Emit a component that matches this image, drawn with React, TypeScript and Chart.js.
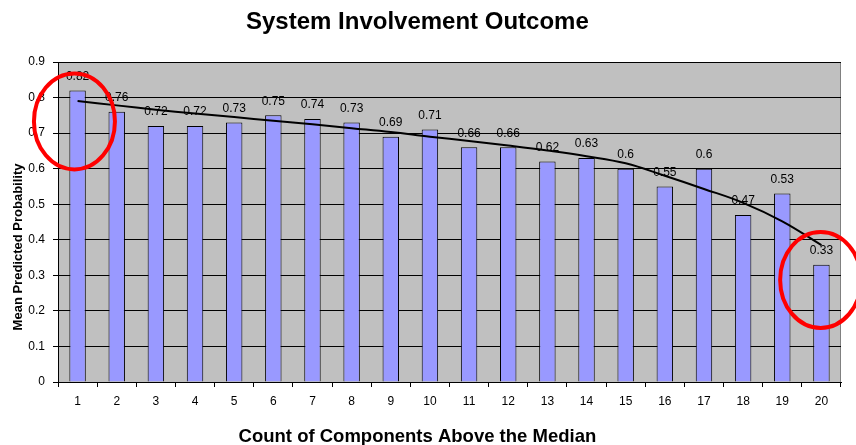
import React, { useEffect, useRef } from "react";
import { Chart, registerables } from "chart.js";

Chart.register(...registerables);

const categories = ["1","2","3","4","5","6","7","8","9","10","11","12","13","14","15","16","17","18","19","20"];
const meanProbability = [0.82,0.76,0.72,0.72,0.73,0.75,0.74,0.73,0.69,0.71,0.66,0.66,0.62,0.63,0.6,0.55,0.6,0.47,0.53,0.33];
const trendValues = [0.79,0.778,0.766,0.755,0.745,0.735,0.725,0.714,0.703,0.69,0.678,0.665,0.651,0.635,0.615,0.58,0.543,0.504,0.452,0.385];
// highlight ellipses in data coordinates (category index, value)
const highlightCenters = [
  { index: -0.08, value: 0.733 },
  { index: 18.98, value: 0.287 },
];
const chartTitle = "System Involvement Outcome";
const xTitle = "Count of Components Above the Median";
const yTitle = "Mean Predicted Probability";

const FONT = "Arial, 'Liberation Sans', sans-serif";

const plotBg = {
  id: "plotBg",
  beforeDraw(chart: any) {
    const { ctx, chartArea } = chart;
    ctx.save();
    ctx.fillStyle = "#c0c0c0";
    ctx.fillRect(chartArea.left, chartArea.top, chartArea.right - chartArea.left, chartArea.bottom - chartArea.top);
    ctx.strokeStyle = "#808080";
    ctx.lineWidth = 1;
    ctx.beginPath();
    ctx.moveTo(Math.round(chartArea.right) - 0.5, chartArea.top);
    ctx.lineTo(Math.round(chartArea.right) - 0.5, chartArea.bottom);
    ctx.stroke();
    ctx.restore();
  },
};

const barLabels = {
  id: "barLabels",
  afterDatasetDraw(chart: any, args: any) {
    if (args.index !== 0) return;
    const { ctx } = chart;
    const meta = chart.getDatasetMeta(0);
    ctx.save();
    ctx.font = `12px ${FONT}`;
    ctx.fillStyle = "#000";
    ctx.textAlign = "center";
    ctx.textBaseline = "middle";
    meta.data.forEach((el: any, i: number) => {
      ctx.fillText(String(meanProbability[i]), el.x, el.y - 14);
    });
    ctx.restore();
  },
};

const titles = {
  id: "titles",
  afterDraw(chart: any) {
    const { ctx, chartArea } = chart;
    const w = chartArea.right - chartArea.left;
    ctx.save();
    ctx.fillStyle = "#000";
    ctx.textAlign = "center";
    ctx.textBaseline = "middle";
    ctx.font = `bold 24px ${FONT}`;
    ctx.fillText(chartTitle, chartArea.left + w * 0.459, 22.5);
    ctx.font = `bold 18.5px ${FONT}`;
    ctx.fillText(xTitle, chartArea.left + w * 0.459, chart.height - 8.5);
    ctx.translate(18, chartArea.top + (chartArea.bottom - chartArea.top) * 0.578);
    ctx.rotate(-Math.PI / 2);
    ctx.font = `bold 13px ${FONT}`;
    ctx.fillText(yTitle, 0, 0);
    ctx.restore();
  },
};

const highlights = {
  id: "highlights",
  afterDraw(chart: any) {
    const { ctx } = chart;
    const xs = chart.scales.x;
    const ys = chart.scales.y;
    const step = xs.getPixelForValue(1) - xs.getPixelForValue(0);
    ctx.save();
    ctx.strokeStyle = "#ff0000";
    ctx.lineWidth = 4;
    highlightCenters.forEach((c) => {
      const cx = xs.getPixelForValue(0) + c.index * step;
      const cy = ys.getPixelForValue(c.value);
      ctx.beginPath();
      ctx.ellipse(cx, cy, 40.5, 48, 0, 0, Math.PI * 2);
      ctx.stroke();
    });
    ctx.restore();
  },
};

export default function App() {
  const ref = useRef<HTMLCanvasElement>(null);
  useEffect(() => {
    const chart = new Chart(ref.current!, {
      type: "bar",
      data: {
        labels: categories,
        datasets: [
          {
            type: "bar",
            data: meanProbability,
            backgroundColor: "#9999ff",
            borderColor: "#000000",
            borderWidth: 1,
            barPercentage: 0.42,
            categoryPercentage: 1,
            order: 2,
          } as any,
          {
            type: "line",
            data: trendValues,
            borderColor: "#000000",
            borderWidth: 2,
            pointRadius: 0,
            tension: 0.4,
            fill: false,
            order: 1,
          } as any,
        ],
      },
      options: {
        responsive: true,
        maintainAspectRatio: false,
        animation: false,
        layout: { padding: { left: 0, right: 15, top: 62, bottom: 0 } },
        plugins: {
          legend: { display: false },
          tooltip: { enabled: false },
          title: { display: false },
        },
        scales: {
          x: {
            offset: true,
            grid: { offset: true, drawOnChartArea: false, drawTicks: true, tickLength: 5, color: "#000" },
            border: { color: "#000", width: 1 },
            ticks: { color: "#000", font: { family: FONT, size: 12 }, padding: 7, maxRotation: 0 },
            afterFit(scale: any) {
              scale.height = 63;
            },
          },
          y: {
            min: 0,
            max: 0.9,
            ticks: {
              stepSize: 0.1,
              color: "#000",
              font: { family: FONT, size: 12 },
              padding: 8,
              callback: (v: any) => String(Math.round(Number(v) * 10) / 10),
            },
            grid: { color: "#000", tickLength: 5, drawTicks: true },
            border: { color: "#000", width: 1 },
            afterFit(scale: any) {
              scale.width = 58;
            },
          },
        },
      },
      plugins: [plotBg, barLabels, titles, highlights],
    });
    return () => chart.destroy();
  }, []);
  return (
    <div style={{ position: "fixed", left: 0, top: 0, width: 856, height: 445, background: "#fff" }}>
      <canvas ref={ref} />
    </div>
  );
}
